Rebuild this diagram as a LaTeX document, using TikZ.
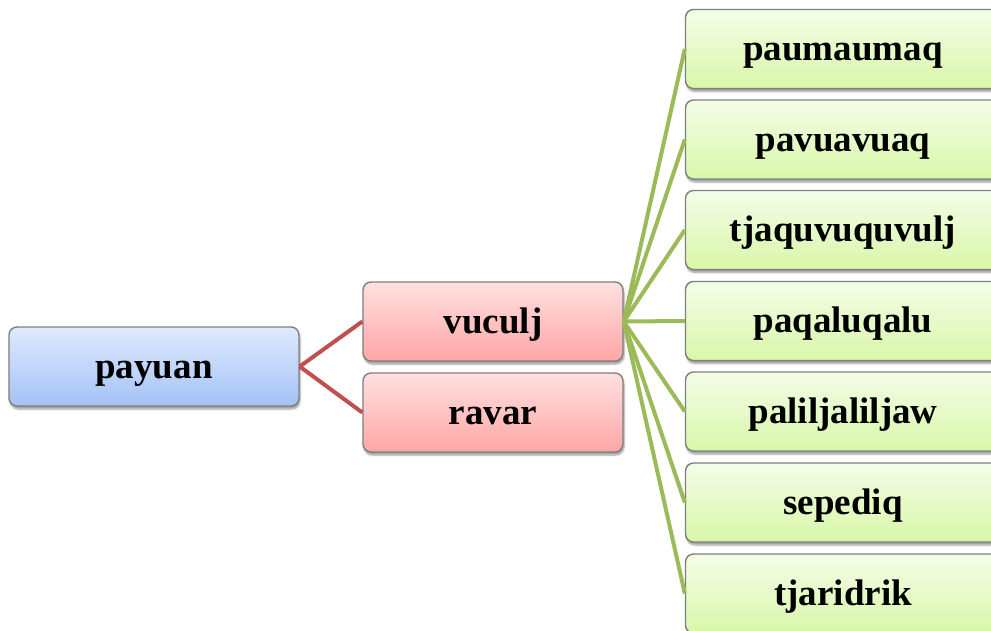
\documentclass[tikz,border=0pt]{standalone}
\usepackage{fontspec}
\setmainfont{Liberation Serif}
\usetikzlibrary{shadows.blur}
\definecolor{bluetop}{HTML}{DFEAFC}
\definecolor{bluebot}{HTML}{A4C2F7}
\definecolor{redtop}{HTML}{FFE0E0}
\definecolor{redbot}{HTML}{FFA6A6}
\definecolor{greentop}{HTML}{F4FDE8}
\definecolor{greenbot}{HTML}{D8F7A8}
\definecolor{boxline}{HTML}{7F7F7F}
\definecolor{redlink}{HTML}{C0504D}
\definecolor{greenlink}{HTML}{9BBB59}
\tikzset{
  box/.style={draw=boxline, line width=1.4pt, rounded corners=8pt,
    minimum height=79pt, inner sep=0pt, text height=30pt, text depth=7pt,
    font=\fontsize{37}{40}\selectfont\bfseries,
    blur shadow={shadow xshift=1pt, shadow yshift=-3pt, shadow blur steps=5, shadow opacity=40}},
  bluebox/.style={box, top color=bluetop, bottom color=bluebot, minimum width=290pt},
  redbox/.style={box, top color=redtop, bottom color=redbot, minimum width=260pt},
  greenbox/.style={box, top color=greentop, bottom color=greenbot, minimum width=315pt},
  rededge/.style={draw=redlink, line width=4pt},
  greenedge/.style={draw=greenlink, line width=4pt},
}
\begin{document}
\begin{tikzpicture}[x=1pt,y=-1pt]
\useasboundingbox (0,0) rectangle (991,630);
\clip (0,0) rectangle (991,630);
\node[bluebox] (payuan) at (154,366.5) {payuan};
\node[redbox] (vuculj) at (493,321.5) {vuculj};
\node[redbox] (ravar) at (493,412.5) {ravar};
\node[greenbox] (g1) at (843,49) {paumaumaq};
\node[greenbox] (g2) at (843,139.5) {pavuavuaq};
\node[greenbox] (g3) at (843,230) {tjaquvuquvulj};
\node[greenbox] (g4) at (843,321) {paqaluqalu};
\node[greenbox] (g5) at (843,411.5) {paliljaliljaw};
\node[greenbox] (g6) at (843,502.5) {sepediq};
\node[greenbox] (g7) at (843,593.5) {tjaridrik};
\draw[rededge] (payuan.east) -- (vuculj.west);
\draw[rededge] (payuan.east) -- (ravar.west);
\foreach \g in {g1,g2,g3,g4,g5,g6,g7}{
  \draw[greenedge] (vuculj.east) -- (\g.west);
}
\end{tikzpicture}
\end{document}
